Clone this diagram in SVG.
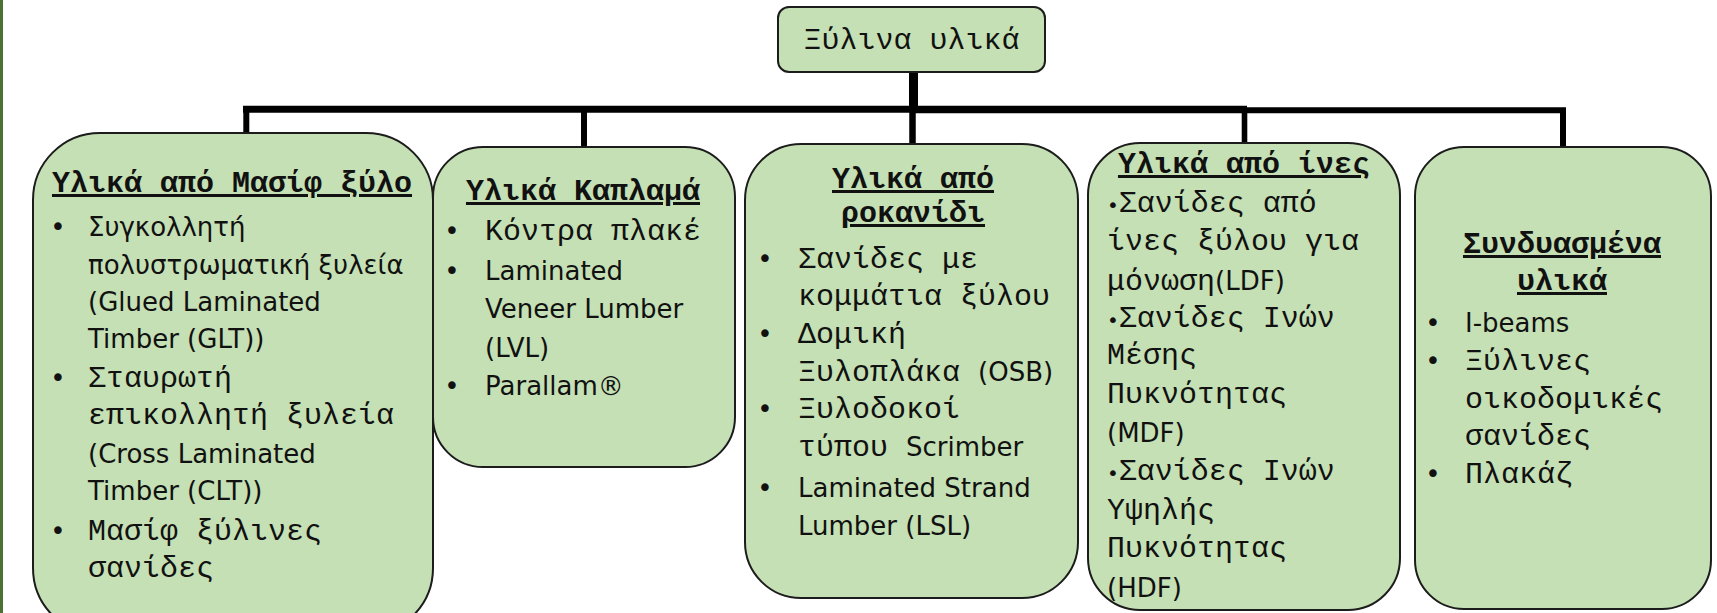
<svg xmlns="http://www.w3.org/2000/svg" width="1717" height="613" viewBox="0 0 1717 613">
<style>
.box{fill:#C5E0B4;stroke:#1c1c1c;stroke-width:2}
.mono{font-family:"Liberation Mono","Courier New",monospace;font-size:30px;fill:#111}
.title{font-family:"Liberation Mono","Courier New",monospace;font-weight:bold;font-size:30px;fill:#111;text-decoration:underline;text-anchor:middle}
.sans{font-family:"DejaVu Sans","Noto Sans",sans-serif;font-size:26px;fill:#111}
.bul{font-family:"DejaVu Sans","Noto Sans",sans-serif;font-size:26px;fill:#111;text-anchor:middle}
.sb{font-family:"DejaVu Sans","Noto Sans",sans-serif;font-size:20px}
.conn line{stroke:#000;stroke-linecap:butt}
</style>
<rect x="0" y="0" width="1717" height="613" fill="#fff"/>
<rect x="0" y="0" width="3" height="613" fill="#4B7232"/>
<g id="connectors" class="conn">
<line x1="913.5" y1="72" x2="913.5" y2="109" stroke-width="9"/>
<line x1="243" y1="109.3" x2="1247" y2="109.3" stroke-width="7"/>
<line x1="913" y1="110.3" x2="1566" y2="110.3" stroke-width="6"/>
<line x1="246.3" y1="109" x2="246.3" y2="133" stroke-width="6"/>
<line x1="584" y1="109" x2="584" y2="147" stroke-width="6"/>
<line x1="912.5" y1="109" x2="912.5" y2="144" stroke-width="6.5"/>
<line x1="1244.5" y1="109" x2="1244.5" y2="143" stroke-width="5.6"/>
<line x1="1563" y1="110" x2="1563" y2="147" stroke-width="6"/>
</g>
<g id="root">
<rect class="box" x="778" y="7" width="267" height="65" rx="11"/>
<text class="mono" x="911.5" y="49" text-anchor="middle">Ξύλινα υλικά</text>
</g>
<g id="masif">
<rect class="box" x="33" y="133" width="400" height="502" rx="67"/>
<text class="title" x="232" y="192">Υλικά από Μασίφ ξύλο</text>
<text class="bul" x="58" y="236">•</text>
<text class="sans" x="88" y="236">Συγκολλητή</text>
<text class="sans" x="88" y="274">πολυστρωματική ξυλεία</text>
<text class="sans" x="88" y="311">(Glued Laminated</text>
<text class="sans" x="88" y="348">Timber (GLT))</text>
<text class="bul" x="58" y="387">•</text>
<text class="mono" x="88" y="387">Σταυρωτή</text>
<text class="mono" x="88" y="424">επικολλητή ξυλεία</text>
<text class="sans" x="88" y="463">(Cross Laminated</text>
<text class="sans" x="88" y="500">Timber (CLT))</text>
<text class="bul" x="58" y="540">•</text>
<text class="mono" x="88" y="540">Μασίφ ξύλινες</text>
<text class="mono" x="88" y="577">σανίδες</text>
</g>
<g id="kaplama">
<rect class="box" x="433" y="147" width="302" height="320" rx="50"/>
<text class="title" x="583" y="200">Υλικά Καπλαμά</text>
<text class="bul" x="452" y="240">•</text>
<text class="mono" x="485" y="240">Κόντρα πλακέ</text>
<text class="bul" x="452" y="280">•</text>
<text class="sans" x="485" y="280">Laminated</text>
<text class="sans" x="485" y="318">Veneer Lumber</text>
<text class="sans" x="485" y="357">(LVL)</text>
<text class="bul" x="452" y="395">•</text>
<text class="sans" x="485" y="395">Parallam®</text>
</g>
<g id="rokanidi">
<rect class="box" x="745" y="144" width="333" height="454" rx="56"/>
<text class="title" x="913" y="188">Υλικά από</text>
<text class="title" x="913" y="222">ροκανίδι</text>
<text class="bul" x="765" y="268">•</text>
<text class="mono" x="798" y="268">Σανίδες με</text>
<text class="mono" x="798" y="305">κομμάτια ξύλου</text>
<text class="bul" x="765" y="343">•</text>
<text class="mono" x="798" y="343">Δομική</text>
<text class="mono" x="798" y="381">Ξυλοπλάκα <tspan class="sans">(OSB)</tspan></text>
<text class="bul" x="765" y="418">•</text>
<text class="mono" x="798" y="418">Ξυλοδοκοί</text>
<text class="mono" x="798" y="456">τύπου <tspan class="sans">Scrimber</tspan></text>
<text class="bul" x="765" y="497">•</text>
<text class="sans" x="798" y="497">Laminated Strand</text>
<text class="sans" x="798" y="535">Lumber (LSL)</text>
</g>
<g id="ines">
<rect class="box" x="1088" y="143" width="312" height="467" rx="52"/>
<text class="title" x="1244" y="173">Υλικά από ίνες</text>
<text class="mono" x="1107" y="212"><tspan class="sb">•</tspan>Σανίδες από</text>
<text class="mono" x="1107" y="250">ίνες ξύλου για</text>
<text class="mono" x="1107" y="290">μόνωση<tspan class="sans">(LDF)</tspan></text>
<text class="mono" x="1107" y="327"><tspan class="sb">•</tspan>Σανίδες Ινών</text>
<text class="mono" x="1107" y="364">Μέσης</text>
<text class="mono" x="1107" y="403">Πυκνότητας</text>
<text class="sans" x="1107" y="442">(MDF)</text>
<text class="mono" x="1107" y="480"><tspan class="sb">•</tspan>Σανίδες Ινών</text>
<text class="mono" x="1107" y="519">Υψηλής</text>
<text class="mono" x="1107" y="557">Πυκνότητας</text>
<text class="sans" x="1107" y="597">(HDF)</text>
</g>
<g id="syndyasmena">
<rect class="box" x="1415" y="147" width="296" height="462" rx="49"/>
<text class="title" x="1562" y="253">Συνδυασμένα</text>
<text class="title" x="1562" y="290">υλικά</text>
<text class="bul" x="1433" y="332">•</text>
<text class="sans" x="1465" y="332">I-beams</text>
<text class="bul" x="1433" y="370">•</text>
<text class="mono" x="1465" y="370">Ξύλινες</text>
<text class="mono" x="1465" y="408">οικοδομικές</text>
<text class="mono" x="1465" y="445">σανίδες</text>
<text class="bul" x="1433" y="483">•</text>
<text class="mono" x="1465" y="483">Πλακάζ</text>
</g>
</svg>
